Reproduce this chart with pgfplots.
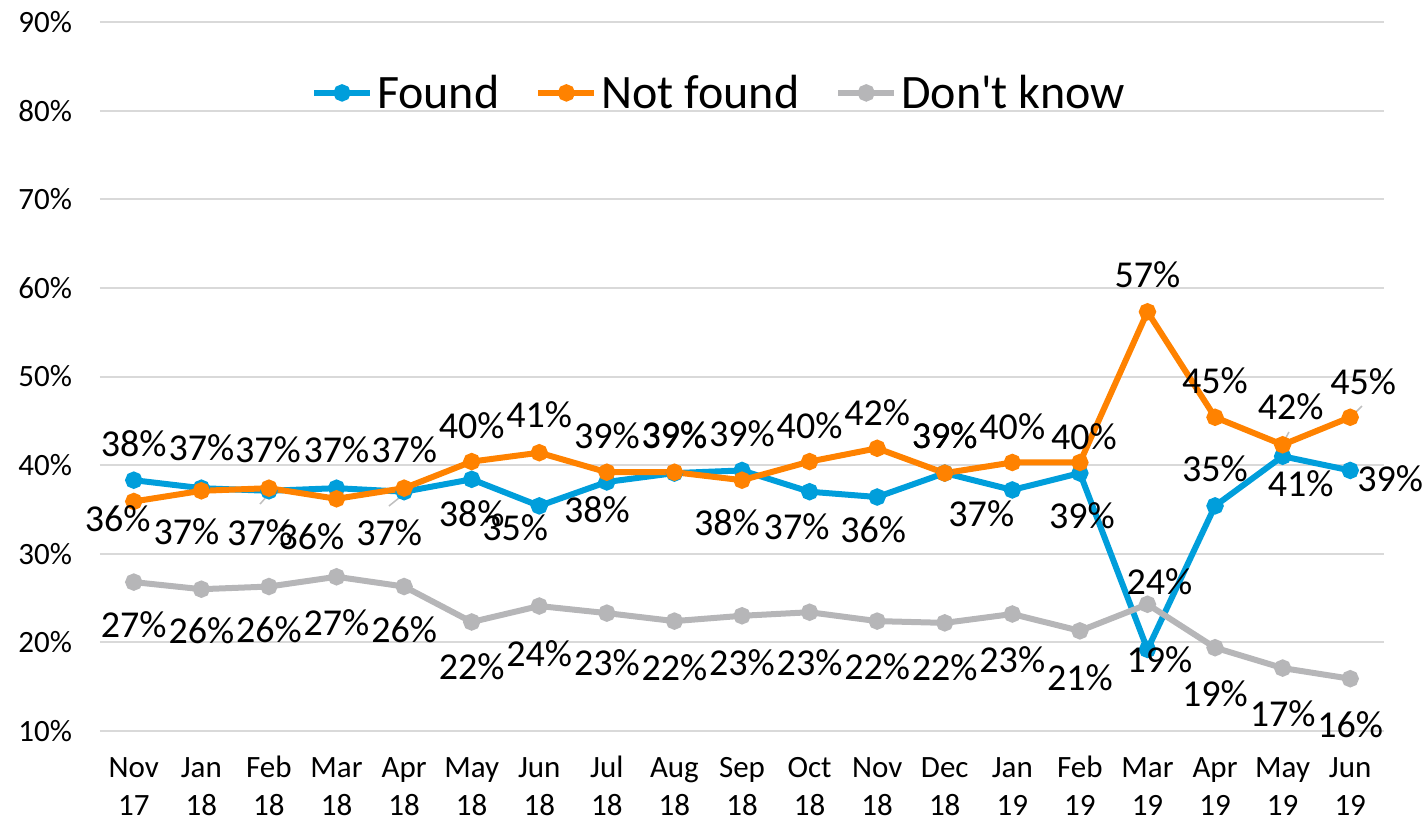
\documentclass[border=0pt]{standalone}
\usepackage{pgfplots}
\pgfplotsset{compat=1.18}
\usepackage{pgfplotstable}
\usepackage{fontspec}
\setmainfont{Carlito}[Ligatures=TeXOff]
\definecolor{cfound}{RGB}{0,158,219}
\definecolor{cnot}{RGB}{255,130,0}
\definecolor{cdk}{RGB}{182,182,184}
\definecolor{cgrid}{RGB}{217,217,217}
\definecolor{cleader}{RGB}{191,191,191}
\def\lbldx{0}\def\lbldy{0}
\newcommand{\tl}[2]{\strut #1\\\strut #2}

% x value label  dx(pt) dy(pt, up positive)
\pgfplotstableread{
x y lbl dx dy
0 38.3 38 0 18.5
1 37.4 37 0 20
2 37.1 37 -0.5 20.5
3 37.4 37 0 19
4 37.0 37 0 21
5 38.4 38 0 -17
6 35.4 35 -12 -11
7 38.1 38 -5 -14
8 39.1 39 0 19
9 39.4 39 0 18.5
10 37.0 37 -6.5 -17.5
11 36.4 36 -2 -16.5
12 39.1 39 0 18.5
13 37.2 37 -15.5 -12
14 39.1 39 1 -21.5
15 19.2 19 6 -5
16 35.4 35 0 18.5
17 41.0 41 9 -13.5
18 39.4 39 20 -4
}\found

\pgfplotstableread{
x y lbl dx dy
0 35.9 36 -8 -8.5
1 37.1 37 -7.5 -20.5
2 37.4 37 -4.5 -22.5
3 36.2 36 -12.5 -19
4 37.4 37 -7.5 -22.5
5 40.4 40 0 18
6 41.4 41 0 19
7 39.2 39 0 18.5
8 39.2 39 0 18.5
9 38.3 38 -7.5 -21
10 40.4 40 0 18
11 41.9 42 0 18
12 39.1 39 0 18.5
13 40.3 40 0 18
14 40.3 40 2 13
15 57.3 57 0 18.5
16 45.4 45 0 18.5
17 42.3 42 4 19
18 45.4 45 6.5 18
}\notfound

\pgfplotstableread{
x y lbl dx dy
0 26.8 27 0 -21.5
1 26.0 26 0 -20.5
2 26.3 26 0 -21.5
3 27.4 27 0 -23
4 26.3 26 0 -21.5
5 22.3 22 0 -22.5
6 24.1 24 0 -24
7 23.3 23 0 -25
8 22.4 22 0 -23.5
9 23.0 23 0 -23.5
10 23.4 23 0 -25
11 22.4 22 0 -23
12 22.2 22 0 -22.5
13 23.2 23 0 -23
14 21.3 21 0 -23.5
15 24.3 24 6 11.5
16 19.4 19 0 -23
17 17.1 17 0 -23
18 15.9 16 0 -23
}\dontknow

\pgfplotsset{
  datalabels/.style={
    point meta=explicit symbolic,
    nodes near coords={\pgfplotspointmeta\%},
    visualization depends on={\thisrow{dx} \as \lbldx},
    visualization depends on={\thisrow{dy} \as \lbldy},
    every node near coord/.append style={anchor=center, text=black,
       font=\fontsize{19}{22}\selectfont,
       xshift=\lbldx pt, yshift=\lbldy pt},
  }
}

\begin{document}
\begin{tikzpicture}
\path[use as bounding box] (-50pt,-46.5pt) rectangle (662.5pt,365.5pt);
\begin{axis}[
  at={(0pt,0pt)}, anchor=south west,
  scale only axis, width=642pt, height=354.5pt,
  xmin=-0.5, xmax=18.5, ymin=10, ymax=90,
  clip=false,
  axis line style={draw=none},
  major tick length=0pt,
  ymajorgrids, grid style={draw=cgrid, line width=1pt},
  ytick={10,20,30,40,50,60,70,80,90},
  yticklabels={10\%,20\%,30\%,40\%,50\%,60\%,70\%,80\%,90\%},
  xtick={0,...,18},
  xticklabels={{\tl{Nov}{17}},{\tl{Jan}{18}},{\tl{Feb}{18}},{\tl{Mar}{18}},{\tl{Apr}{18}},{\tl{May}{18}},{\tl{Jun}{18}},{\tl{Jul}{18}},{\tl{Aug}{18}},{\tl{Sep}{18}},{\tl{Oct}{18}},{\tl{Nov}{18}},{\tl{Dec}{18}},{\tl{Jan}{19}},{\tl{Feb}{19}},{\tl{Mar}{19}},{\tl{Apr}{19}},{\tl{May}{19}},{\tl{Jun}{19}}},
  yticklabel style={font=\fontsize{15.5}{19}\selectfont, xshift=-10.5pt},
  xticklabel style={font=\fontsize{15.5}{19}\selectfont, align=center, anchor=north, yshift=-6.5pt},
  legend columns=3,
  legend style={at={(axis description cs:0.483,0.9)}, anchor=center, draw=none, fill=none,
    font=\fontsize{24}{28}\selectfont,
    nodes={inner sep=2pt},
    /tikz/every even column/.append style={column sep=16pt}},
  legend image code/.code={\draw[mark repeat=2,mark phase=2,#1] plot coordinates {(0pt,0pt) (14pt,0pt) (28pt,0pt)};},
  every axis plot/.append style={line width=3pt, mark=*, mark size=2.8pt, mark options={solid}},
]
\draw[cleader, line width=0.75pt] (axis cs:1.868,35.61) -- (axis cs:2.0,36.74);
\draw[cleader, line width=0.75pt] (axis cs:3.776,35.39) -- (axis cs:3.998,36.74);
\draw[cleader, line width=0.75pt] (axis cs:16.975,42.05) -- (axis cs:17.094,43.74);
\draw[cleader, line width=0.75pt] (axis cs:17.982,45.2) -- (axis cs:18.174,46.67);
\addplot[color=cfound, datalabels] table[x=x, y=y, meta=lbl] {\found};
\addlegendentry{Found}
\addplot[color=cnot, datalabels] table[x=x, y=y, meta=lbl] {\notfound};
\addlegendentry{Not found}
\addplot[color=cdk, datalabels] table[x=x, y=y, meta=lbl] {\dontknow};
\addlegendentry{Don't know}
\end{axis}
\end{tikzpicture}
\end{document}
